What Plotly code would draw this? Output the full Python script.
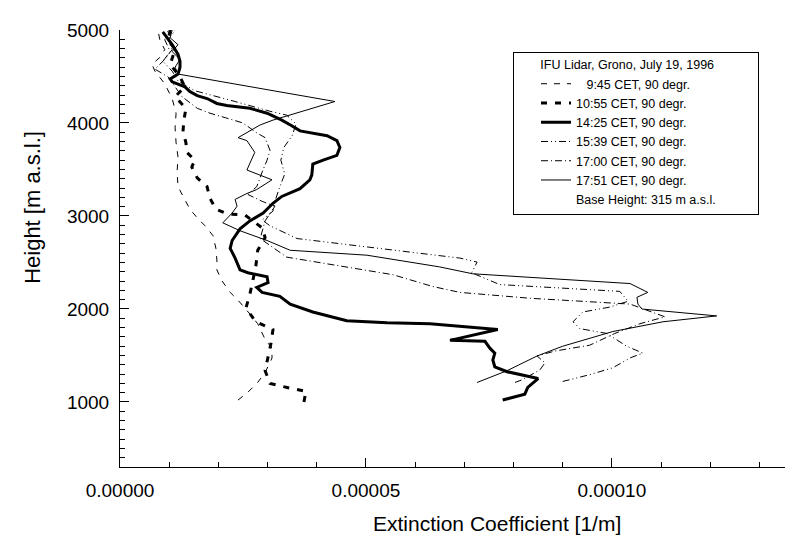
import plotly.graph_objects as go

# ---------------- data (extinction coefficient [1/m], height [m a.s.l.]) ----------------
ext_0945 = [2.40e-5, 2.60e-5, 2.80e-5, 2.95e-5, 3.09e-5, 3.09e-5, 2.95e-5, 2.80e-5, 2.64e-5, 2.52e-5,
            2.40e-5, 2.24e-5, 2.07e-5, 1.97e-5, 1.97e-5, 1.95e-5, 1.89e-5, 1.73e-5, 1.59e-5, 1.42e-5,
            1.28e-5, 1.18e-5, 1.16e-5, 1.18e-5, 1.14e-5, 1.12e-5, 1.14e-5, 1.06e-5, 0.91e-5, 0.71e-5,
            0.65e-5, 0.81e-5, 0.91e-5, 0.81e-5, 0.77e-5]
h_0945 = [1020, 1104, 1210, 1315, 1472, 1578, 1673, 1841, 1946, 2020,
          2094, 2178, 2304, 2420, 2525, 2652, 2789, 2894, 2968, 3073,
          3210, 3315, 3473, 3631, 3789, 3947, 4105, 4263, 4421, 4558,
          4631, 4705, 4789, 4895, 5000]

ext_1055 = [3.74e-5, 3.78e-5, 3.46e-5, 3.05e-5, 2.95e-5, 3.01e-5, 3.07e-5, 3.11e-5, 2.76e-5, 2.56e-5,
            2.64e-5, 2.76e-5, 2.80e-5, 2.95e-5, 2.89e-5, 2.54e-5, 2.20e-5, 1.95e-5, 1.83e-5, 1.77e-5,
            1.57e-5, 1.46e-5, 1.52e-5, 1.36e-5, 1.34e-5, 1.28e-5, 1.30e-5, 1.34e-5, 1.12e-5, 1.32e-5,
            1.22e-5, 1.02e-5, 1.12e-5, 0.98e-5, 1.02e-5]
h_1055 = [999, 1115, 1147, 1199, 1336, 1473, 1630, 1778, 1862, 2010,
          2157, 2452, 2631, 2768, 2873, 3010, 3020, 3073, 3189, 3315,
          3410, 3526, 3600, 3684, 3789, 3905, 4031, 4158, 4284, 4389,
          4495, 4631, 4789, 4895, 5000]

ext_1425 = [7.78e-5, 8.23e-5, 8.29e-5, 8.50e-5, 7.87e-5, 7.62e-5, 7.58e-5, 7.62e-5, 7.52e-5, 7.42e-5,
            6.71e-5, 7.68e-5, 6.30e-5, 5.43e-5, 4.61e-5, 3.92e-5, 3.46e-5, 3.25e-5, 2.89e-5, 2.78e-5,
            3.01e-5, 2.99e-5, 2.60e-5, 2.44e-5, 2.34e-5, 2.24e-5, 2.28e-5, 2.44e-5, 2.64e-5, 2.91e-5,
            3.11e-5, 3.29e-5, 3.66e-5, 3.86e-5, 3.90e-5, 3.92e-5, 4.13e-5, 4.41e-5, 4.47e-5, 4.41e-5,
            4.21e-5, 3.66e-5, 3.50e-5, 3.29e-5, 2.99e-5, 2.64e-5, 2.17e-5, 1.97e-5, 1.77e-5, 1.57e-5,
            1.42e-5, 1.32e-5, 1.06e-5, 1.02e-5, 1.18e-5, 1.22e-5, 1.22e-5, 1.18e-5, 1.06e-5, 0.96e-5,
            0.87e-5]
h_1425 = [1020, 1083, 1157, 1251, 1325, 1378, 1451, 1525, 1578, 1652,
          1662, 1778, 1841, 1852, 1873, 1967, 2052, 2136, 2178, 2231,
          2283, 2346, 2389, 2420, 2547, 2652, 2736, 2862, 2947, 3031,
          3136, 3210, 3294, 3389, 3442, 3557, 3600, 3652, 3736, 3810,
          3863, 3915, 3968, 4031, 4105, 4158, 4189, 4210, 4263, 4294,
          4337, 4389, 4442, 4474, 4526, 4600, 4663, 4737, 4842, 4916,
          4979]

ext_1539 = [9.00e-5, 9.55e-5, 10.02e-5, 10.37e-5, 10.63e-5, 10.30e-5, 9.90e-5, 9.35e-5, 9.21e-5, 9.41e-5,
            9.96e-5, 10.33e-5, 10.16e-5, 7.72e-5, 7.15e-5, 7.26e-5, 6.91e-5, 5.28e-5, 3.60e-5, 3.05e-5,
            2.89e-5, 3.11e-5, 3.17e-5, 3.25e-5, 3.35e-5, 3.27e-5, 3.33e-5, 3.50e-5, 3.58e-5, 3.39e-5,
            3.05e-5, 2.34e-5, 1.52e-5, 1.18e-5, 1.06e-5, 0.87e-5, 1.02e-5, 0.91e-5, 0.98e-5]
h_1539 = [1220, 1293, 1367, 1473, 1525, 1599, 1736, 1788, 1862, 1967,
          2020, 2083, 2189, 2262, 2389, 2504, 2547, 2652, 2757, 2894,
          2957, 3052, 3189, 3315, 3452, 3600, 3736, 3863, 3989, 4084,
          4126, 4231, 4347, 4452, 4558, 4663, 4768, 4895, 5000]

ext_1700 = [8.03e-5, 8.19e-5, 8.54e-5, 8.64e-5, 8.48e-5, 8.84e-5, 9.55e-5, 10.06e-5, 10.57e-5, 11.08e-5,
            10.37e-5, 8.33e-5, 6.91e-5, 6.36e-5, 5.55e-5, 4.61e-5, 3.39e-5, 2.85e-5, 2.95e-5, 3.15e-5,
            2.89e-5, 2.60e-5, 2.78e-5, 2.89e-5, 2.99e-5, 3.05e-5, 2.95e-5, 2.78e-5, 2.50e-5, 2.17e-5,
            1.83e-5, 1.57e-5, 1.26e-5, 1.12e-5, 0.98e-5, 0.71e-5, 0.91e-5, 1.06e-5, 0.98e-5, 1.12e-5]
h_1700 = [1209, 1241, 1346, 1420, 1494, 1547, 1610, 1736, 1841, 1915,
          2052, 2115, 2178, 2241, 2368, 2452, 2557, 2757, 2947, 3105,
          3157, 3231, 3315, 3473, 3600, 3705, 3842, 3894, 4000, 4052,
          4105, 4158, 4284, 4389, 4495, 4579, 4684, 4789, 4895, 5000]

ext_1751 = [7.26e-5, 7.87e-5, 8.48e-5, 9.00e-5, 10.02e-5, 11.04e-5, 12.13e-5, 10.61e-5, 10.53e-5, 10.51e-5,
            10.73e-5, 10.37e-5, 7.17e-5, 6.50e-5, 5.02e-5, 3.46e-5, 2.99e-5, 2.44e-5, 2.09e-5, 2.28e-5,
            2.38e-5, 2.34e-5, 2.58e-5, 2.78e-5, 3.09e-5, 2.58e-5, 2.74e-5, 2.58e-5, 2.40e-5, 2.85e-5,
            3.11e-5, 4.37e-5, 1.18e-5, 1.12e-5, 1.22e-5, 1.06e-5, 1.18e-5, 1.02e-5, 1.06e-5]
h_1751 = [1209, 1336, 1494, 1599, 1757, 1862, 1925, 1999, 2052, 2125,
          2178, 2273, 2378, 2452, 2578, 2631, 2736, 2841, 2926, 3031,
          3105, 3178, 3242, 3284, 3389, 3494, 3684, 3810, 3842, 3979,
          4031, 4231, 4526, 4600, 4684, 4768, 4842, 4916, 5000]

series_names = ["\u00a0\u00a0\u00a09:45 CET, 90 degr.", "10:55 CET, 90 degr.", "14:25 CET, 90 degr.",
                "15:39 CET, 90 degr.", "17:00 CET, 90 degr.", "17:51 CET, 90 degr."]
legend_title = "IFU Lidar, Grono, July 19, 1996"
base_note = "Base Height: 315 m a.s.l."

x_ticks = [0.0, 0.00005, 0.00010]
x_tick_text = ["0.00000", "0.00005", "0.00010"]
y_ticks = [1000, 2000, 3000, 4000, 5000]

# ---------------- figure ----------------
# the page body has an 8px default margin, so the figure is sized/placed to compensate
FONT = "Arial, Liberation Sans, Helvetica, sans-serif"
styles = [
    dict(width=1, dash="6px,7px"),
    dict(width=3, dash="6px,8px"),
    dict(width=3, dash="solid"),
    dict(width=1, dash="7px,3px,1px,3px,1px,3px"),
    dict(width=1, dash="7px,3px,1px,3px"),
    dict(width=1, dash="solid"),
]
xs = [ext_0945, ext_1055, ext_1425, ext_1539, ext_1700, ext_1751]
ys = [h_0945, h_1055, h_1425, h_1539, h_1700, h_1751]

fig = go.Figure()
for x, y, name, st in zip(xs, ys, series_names, styles):
    fig.add_trace(go.Scatter(x=x, y=y, mode="lines", name=name,
                             line=dict(color="black", width=st["width"], dash=st["dash"])))

# text-only legend entry for the base height
fig.add_trace(go.Scatter(x=[None], y=[None], mode="lines", name=base_note,
                         line=dict(color="rgba(0,0,0,0)", width=0)))

axis_common = dict(showgrid=False, zeroline=False, showline=True, linecolor="black", linewidth=1,
                   ticks="inside", ticklen=9, tickwidth=1, tickcolor="black",
                   tickfont=dict(family=FONT, size=19, color="black"), ticklabelstandoff=6)

fig.update_xaxes(range=[0, 0.0001352], tickvals=x_ticks, ticktext=x_tick_text,
                 minor=dict(dtick=0.00001, tick0=0, ticks="inside", ticklen=5, tickcolor="black"),
                 **axis_common)
fig.update_yaxes(range=[300, 5000], tickvals=y_ticks, tickformat="d",
                 minor=dict(dtick=100, tick0=0, ticks="inside", ticklen=5, tickcolor="black"),
                 **axis_common)

NB = "\u00a0"
fig.update_layout(
    width=791, height=531,
    margin=dict(l=112, r=14, t=12, b=72),
    paper_bgcolor="white", plot_bgcolor="white",
    font=dict(family=FONT, color="black"),
    showlegend=True,
    legend=dict(
        x=0.591, y=0.95, xanchor="left", yanchor="top",
        bgcolor="white", bordercolor="black", borderwidth=1,
        font=dict(family=FONT, size=12.5, color="black"),
        title=dict(text=NB * 7 + legend_title + NB * 12,
                   font=dict(family=FONT, size=12.5, color="black")),
        itemwidth=30, indentation=22, tracegroupgap=0,
    ),
    annotations=[
        dict(text="Extinction Coefficient [1/m]", xref="paper", yref="paper",
             x=0.567, y=-0.13, xanchor="center", yanchor="middle", showarrow=False,
             font=dict(family=FONT, size=21, color="black")),
        dict(text="Height [m a.s.l.]", xref="paper", yref="paper", textangle=-90,
             x=-0.131, y=0.595, xanchor="center", yanchor="middle", showarrow=False,
             font=dict(family=FONT, size=22, color="black")),
    ],
)

fig.write_html("out.html")
